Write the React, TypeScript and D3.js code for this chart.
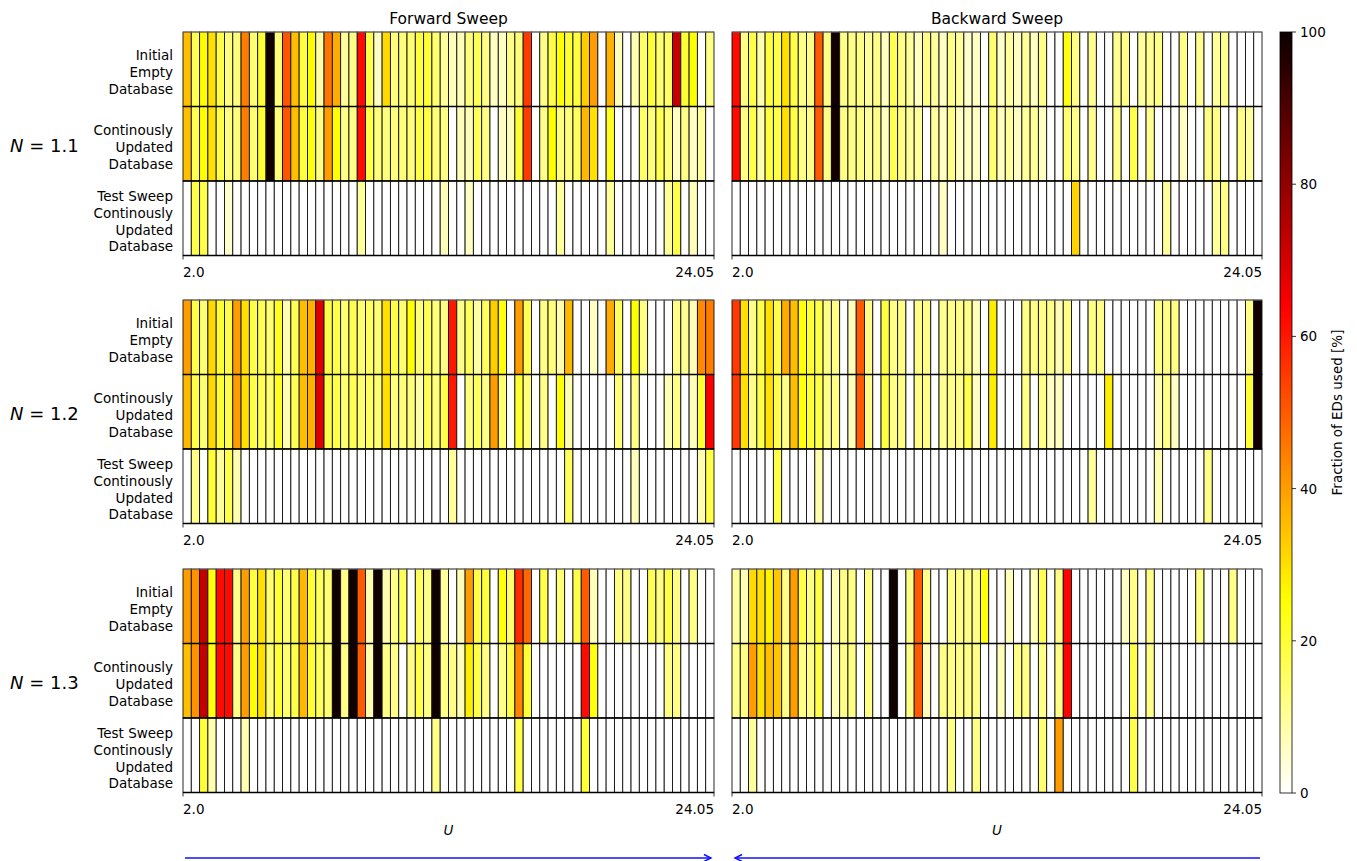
import React from 'react';
import * as d3 from 'd3';

const W = 1357;
const H = 861;

// U categories (64 columns, 2.0 ... 24.05 in steps of 0.35)
const U: number[] = d3.range(64).map((i) => +(2 + 0.35 * i).toFixed(2));
const tickLabels = ['2.0', '24.05'];
const rowNames = ['init', 'upd', 'test'];
const rowLabels = [
  ['Initial', 'Empty', 'Database'],
  ['Continously', 'Updated', 'Database'],
  ['Test Sweep', 'Continously', 'Updated', 'Database'],
];
const nLabels = ['1.1', '1.2', '1.3'];
const sweepTitles = ['Forward Sweep', 'Backward Sweep'];
const cbTicks = [0, 20, 40, 60, 80, 100];

// ---- N = 1.1 ----
const fwd11Init = [35,17,26,30,18,13,13,45,14,20, 99,13,51,35,19,26,9,46,38,10, 12,62,18,6,31,13,13,14,19,20, 14,10,7,7,13,17,12,6,6,12, 13,55,0,12,18,25,20,19,33,40, 0,37,7,0,8,15,20,14,15,72, 20,25,0,12];
const fwd11Upd = [35,17,25,30,18,13,13,45,14,20, 99,13,51,35,19,24,12,40,25,12, 12,62,18,13,13,13,13,13,18,19, 13,12,0,7,7,16,12,0,6,7, 20,55,0,12,25,13,13,16,36,30, 0,22,0,0,0,15,13,17,13,6, 12,6,10,0];
const fwd11Test = [0,18,18,0,0,5,0,0,0,0, 0,0,0,0,0,0,0,0,0,0, 0,10,0,0,0,0,0,0,0,0, 0,7,0,0,6,0,0,0,0,0, 0,0,0,0,0,10,0,0,0,0, 0,10,0,0,0,0,0,0,10,18, 0,7,0,0];
const bwd11Init = [62,12,18,8,19,18,30,18,12,12, 50,12,99,12,12,12,10,12,6,17, 12,10,6,12,10,6,12,10,5,6, 0,14,5,10,6,10,6,12,0,0, 24,12,0,11,0,0,11,12,0,10, 11,12,0,0,12,0,11,0,10,11, 0,0,0,0];
const bwd11Upd = [62,12,18,8,19,18,30,18,12,12, 50,12,99,12,12,12,10,12,6,17, 12,10,10,0,10,6,12,6,6,6, 0,14,6,10,6,10,10,6,0,0, 14,12,0,11,0,0,12,0,18,0, 11,0,0,0,6,0,0,12,12,0, 0,12,10,0];
const bwd11Test = [0,0,0,0,0,0,0,0,0,0, 0,0,0,0,0,0,0,0,0,0, 0,0,0,0,0,6,0,0,0,0, 0,0,0,0,0,0,0,0,0,0, 0,32,0,0,0,0,0,0,0,0, 0,0,10,0,0,0,0,0,10,12, 0,0,0,0];

// ---- N = 1.2 ----
const fwd12Init = [40,18,14,31,20,18,40,30,18,17, 14,22,8,17,35,37,68,18,18,14, 17,14,16,14,30,18,14,25,13,17, 13,12,60,12,16,9,16,33,24,0, 40,17,0,12,13,8,36,0,0,6, 0,38,16,0,25,12,0,0,0,12, 11,7,43,45];
const fwd12Upd = [36,18,14,31,20,18,40,30,18,17, 14,22,8,17,35,37,68,18,18,14, 17,14,16,14,30,13,13,13,9,17, 13,18,60,0,13,16,12,40,14,0, 20,13,0,12,0,25,8,0,0,0, 0,0,13,0,12,0,0,0,7,12, 0,7,20,64];
const fwd12Test = [0,12,0,20,10,18,8,0,0,0, 0,0,0,0,0,0,0,0,0,0, 0,0,0,0,0,0,0,0,0,0, 0,0,10,0,0,0,0,0,0,0, 0,0,0,0,0,0,16,0,0,0, 0,0,0,0,7,0,0,0,0,0, 0,0,8,18];
const bwd12Init = [55,30,12,18,30,18,38,35,24,20, 18,12,12,0,7,50,12,0,19,12, 12,0,12,12,0,11,12,12,12,7, 0,28,0,0,0,12,12,12,12,7, 12,0,0,12,12,0,0,0,0,0, 0,12,12,12,0,0,0,0,0,0, 0,0,12,99];
const bwd12Upd = [55,30,12,18,30,18,12,35,24,20, 18,12,12,0,7,50,12,0,19,12, 12,0,12,12,0,11,12,12,18,6, 0,28,0,0,0,12,0,12,6,6, 0,0,0,0,0,28,0,0,0,0, 0,8,12,6,0,0,0,0,0,0, 0,0,20,99];
const bwd12Test = [0,0,0,0,0,18,0,0,0,0, 8,0,0,0,0,0,0,0,0,0, 0,0,0,0,0,0,0,0,0,0, 0,0,0,0,0,0,0,0,0,0, 0,0,0,10,0,0,0,0,0,0, 0,8,0,0,0,0,0,12,0,0, 0,0,0,0];

// ---- N = 1.3 ----
const fwd13Init = [40,42,72,24,62,62,12,40,19,30, 14,20,14,18,36,20,16,14,99,12, 99,50,8,99,8,12,16,0,16,12, 99,10,0,7,40,18,19,0,24,14, 57,48,0,18,0,14,0,18,50,7, 0,0,12,12,0,0,17,12,18,12, 0,12,0,0];
const fwd13Upd = [35,42,72,24,62,62,12,40,25,30, 14,20,14,18,36,20,16,14,99,12, 99,50,8,99,12,12,0,12,18,12, 99,12,12,7,28,18,12,0,12,18, 44,20,0,0,0,0,0,0,62,24, 0,0,0,0,0,0,0,0,12,12, 0,0,0,0];
const fwd13Test = [0,0,20,8,0,0,0,8,0,0, 0,0,0,0,0,0,0,0,0,0, 0,0,0,0,0,0,0,0,0,0, 12,0,0,0,0,0,0,0,0,0, 18,0,0,0,0,0,0,0,20,0, 0,0,0,0,0,0,0,0,0,0, 0,0,0,0];
const bwd13Init = [10,7,31,30,27,34,12,40,18,12, 18,0,7,12,12,0,12,0,0,99, 0,12,50,12,0,0,12,12,12,12, 24,0,0,7,0,0,7,17,0,12, 63,0,0,0,0,0,0,6,12,0, 12,0,0,0,0,0,12,0,0,0, 12,0,0,0];
const bwd13Upd = [12,12,40,30,35,34,12,40,12,12, 18,0,7,12,12,0,12,0,0,99, 0,12,50,7,0,12,12,12,12,12, 0,0,7,0,12,12,0,12,0,12, 63,0,0,0,0,0,0,0,18,0, 12,0,0,0,0,0,0,0,0,0, 0,0,0,0];
const bwd13Test = [0,0,10,0,0,0,0,0,0,0, 0,0,0,0,0,0,0,0,0,0, 0,0,0,0,0,0,12,0,0,12, 0,0,0,0,0,0,0,14,0,40, 0,0,0,0,0,0,0,0,18,0, 0,0,0,0,0,0,0,0,0,0, 0,0,0,0];

const panels = [
  [[fwd11Init, fwd11Upd, fwd11Test], [bwd11Init, bwd11Upd, bwd11Test]],
  [[fwd12Init, fwd12Upd, fwd12Test], [bwd12Init, bwd12Upd, bwd12Test]],
  [[fwd13Init, fwd13Upd, fwd13Test], [bwd13Init, bwd13Upd, bwd13Test]],
];

// matplotlib 'hot' reversed
function hotR(v: number): string {
  const t = 1 - Math.max(0, Math.min(100, v)) / 100;
  const c = (x: number) => Math.max(0, Math.min(1, x));
  const r = t < 0.365079 ? 0.0416 + (1 - 0.0416) * (t / 0.365079) : 1;
  const g = c((t - 0.365079) / (0.746032 - 0.365079));
  const b = c((t - 0.746032) / (1 - 0.746032));
  return d3.rgb(r * 255, g * 255, b * 255).formatHex();
}

const colRanges: [number, number][] = [[183, 714], [732, 1262]];
const rowTops = [32, 300, 569];
const panelH = 223.5;
const FONT = 'DejaVu Sans, sans-serif';

export default function App() {
  const cbY = d3.scaleLinear().domain([0, 100]).range([793, 32]);
  const gradStops = d3.range(0, 101, 2);

  return (
    <svg width={W} height={H} style={{ position: 'absolute', left: 0, top: 0, background: '#fff' }} fontFamily={FONT}>
      <defs>
        <linearGradient id="cbgrad" x1="0" y1="1" x2="0" y2="0">
          {gradStops.map((s) => (
            <stop key={s} offset={`${s}%`} stopColor={hotR(s)} />
          ))}
        </linearGradient>
      </defs>
      <rect x={0} y={0} width={W} height={H} fill="#fff" />

      {sweepTitles.map((t, ci) => (
        <text key={t} x={(colRanges[ci][0] + colRanges[ci][1]) / 2} y={24} textAnchor="middle" fontSize={15.5} fill="#000">
          {t}
        </text>
      ))}

      {panels.map((row, ri) => {
        const y0 = rowTops[ri];
        const yScale = d3.scaleBand<string>().domain(rowNames).range([y0, y0 + panelH]);
        return (
          <g key={ri}>
            {/* N label */}
            <text x={10} y={y0 + panelH / 2 + 8} fontSize={18} fill="#000">
              <tspan fontStyle="italic">N</tspan>
              <tspan> = {nLabels[ri]}</tspan>
            </text>
            {/* row labels */}
            {rowLabels.map((lines, k) => {
              const cy = (yScale(rowNames[k]) as number) + yScale.bandwidth() / 2;
              const lh = 16.8;
              return (
                <text key={k} x={173} textAnchor="end" fontSize={13.5} fill="#000">
                  {lines.map((ln, li) => (
                    <tspan key={li} x={173} y={cy - ((lines.length - 1) / 2) * lh + li * lh + 8}>
                      {ln}
                    </tspan>
                  ))}
                </text>
              );
            })}
            {row.map((series, ci) => {
              const [x0, x1] = colRanges[ci];
              const xScale = d3.scaleBand<number>().domain(U).range([x0, x1]);
              return (
                <g key={ci}>
                  {series.map((vals, k) =>
                    vals.map((v, j) => (
                      <rect
                        key={`${k}-${j}`}
                        x={xScale(U[j])}
                        y={yScale(rowNames[k])}
                        width={xScale.bandwidth()}
                        height={yScale.bandwidth()}
                        fill={hotR(v)}
                        stroke="#111"
                        strokeWidth={0.9}
                      />
                    ))
                  )}
                  {/* row separators */}
                  {rowNames.slice(1).map((rn) => (
                    <line key={rn} x1={x0} x2={x1} y1={yScale(rn)} y2={yScale(rn)} stroke="#000" strokeWidth={1.6} />
                  ))}
                  <line x1={x0} x2={x1} y1={y0 + panelH} y2={y0 + panelH} stroke="#000" strokeWidth={1.6} />
                  <line x1={x0} x2={x1} y1={y0} y2={y0} stroke="#888" strokeWidth={0.8} />
                  {/* x ticks */}
                  <line x1={x0} x2={x0} y1={y0 + panelH} y2={y0 + panelH + 4} stroke="#000" strokeWidth={0.8} />
                  <line x1={x1} x2={x1} y1={y0 + panelH} y2={y0 + panelH + 4} stroke="#000" strokeWidth={0.8} />
                  <text x={x0} y={y0 + panelH + 21} fontSize={13.5} fill="#000" textAnchor="start">
                    {tickLabels[0]}
                  </text>
                  <text x={x1} y={y0 + panelH + 21} fontSize={13.5} fill="#000" textAnchor="end">
                    {tickLabels[1]}
                  </text>
                </g>
              );
            })}
          </g>
        );
      })}

      {/* U axis labels */}
      {colRanges.map(([a, b], ci) => (
        <text key={ci} x={(a + b) / 2} y={835} textAnchor="middle" fontSize={13.5} fontStyle="italic" fill="#000">
          U
        </text>
      ))}

      {/* sweep arrows */}
      <g stroke="#1010ff" strokeWidth={1.4} fill="none">
        <line x1={185} x2={711} y1={858} y2={858} />
        <polyline points="704,854.5 711,858 704,861.5" />
        <line x1={1260} x2={735} y1={858} y2={858} />
        <polyline points="742,854.5 735,858 742,861.5" />
      </g>

      {/* colorbar */}
      <rect x={1280} y={cbY(100)} width={12} height={cbY(0) - cbY(100)} fill="url(#cbgrad)" stroke="#000" strokeWidth={0.8} />
      {cbTicks.map((t) => (
        <g key={t}>
          <line x1={1292} x2={1296} y1={cbY(t)} y2={cbY(t)} stroke="#000" strokeWidth={0.8} />
          <text x={1300} y={cbY(t) + 5} fontSize={13.5} fill="#000">
            {t}
          </text>
        </g>
      ))}
      <text transform={`translate(1342, ${(cbY(0) + cbY(100)) / 2}) rotate(-90)`} textAnchor="middle" fontSize={13.5} fill="#000">
        Fraction of EDs used [%]
      </text>
    </svg>
  );
}
